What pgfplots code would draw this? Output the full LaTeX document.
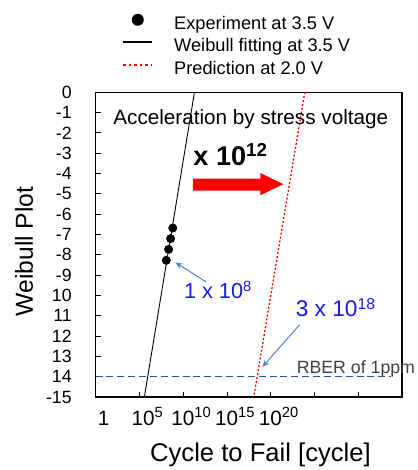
\documentclass[border=0pt]{standalone}
\usepackage{pgfplots}
\pgfplotsset{compat=1.18}
\usepackage{fontspec}
\setmainfont{Liberation Sans}
\usetikzlibrary{arrows.meta}

\definecolor{rberblue}{RGB}{40,80,170}
\definecolor{arrowblue}{RGB}{80,130,200}
\definecolor{textblue}{RGB}{25,25,235}

% superscript for the x tick labels
\newcommand\sx[1]{\raisebox{7.5bp}{\fontsize{15}{15}\selectfont #1}}

% legend samples
\pgfplotsset{
  legdot/.style={legend image code/.code={\draw[mark repeat=2,mark phase=2,##1]
    plot coordinates {(0bp,5bp) (14.5bp,5bp) (29bp,5bp)};}},
  legline/.style={legend image code/.code={\draw[##1] (0bp,5bp) -- (29bp,5bp);}},
}

\begin{document}
\begin{tikzpicture}
% fix the page to 422 x 470 (px of the reference), origin = axis lower left
\begin{scope}[shift={(-96.7bp,401.7bp)}, x=1bp, y=-1bp]
  \path[use as bounding box] (0,0) rectangle (422,470);
\end{scope}

\begin{axis}[
    at={(0,0)}, anchor=south west,
    scale only axis,
    width=310bp, height=308.4bp,
    xmode=log,
    xmin=1, xmax=1e35,
    ymin=-15, ymax=0,
    xtick={1,1e5,1e10,1e15,1e20,1e25,1e30},
    xticklabels={1,10\sx{5},10\sx{10},10\sx{15},10\sx{20},{},{}},
    minor xtick={},
    ytick={-15,-14,...,0},
    yticklabels={-15,14,13,12,11,10,-9,-8,-7,-6,-5,-4,-3,-2,-1,0},
    xtick pos=bottom, ytick pos=left,
    tick align=inside,
    major tick length=5bp,
    tick style={black, line width=0.9bp},
    axis line style={line width=1.3bp},
    xticklabel style={anchor=base, xshift=8bp, yshift=-28.3bp,
      font=\fontsize{21}{21}\selectfont},
    yticklabel style={xshift=-20.7bp, font=\fontsize{18}{18}\selectfont},
    xlabel={Cycle to Fail [cycle]},
    ylabel={Weibull Plot},
    xlabel style={at={(axis description cs:0.538,-0.2108)}, anchor=base,
      font=\fontsize{26}{26}\selectfont},
    ylabel style={at={(axis description cs:-0.2045,0.4776)}, anchor=base,
      font=\fontsize{25}{25}\selectfont},
    legend style={at={(axis description cs:0.0881,1.2565)}, anchor=north west,
      draw=none, fill=none, inner sep=0pt, outer sep=0pt,
      row sep=5.3bp, column sep=21.5bp,
      font=\fontsize{18.5}{18.5}\selectfont,
      nodes={inner sep=0pt, text height=13.5bp, text depth=4bp}},
    legend cell align=left,
]
\addlegendimage{only marks, mark=*, mark size=5.8bp, black, legdot}
\addlegendentry{Experiment at 3.5 V}
\addlegendimage{black, line width=1.7bp, legline}
\addlegendentry{Weibull fitting at 3.5 V}
\addlegendimage{red, line width=1.6bp, dash pattern=on 2.5bp off 3bp, legline}
\addlegendentry{Prediction at 2.0 V}

% RBER of 1ppm level
\addplot[rberblue, line width=1.3bp, dash pattern=on 7bp off 4bp, forget plot]
  coordinates {(1,-14) (4.8e33,-14)};
% Weibull fitting at 3.5 V
\addplot[black, line width=0.9bp, forget plot]
  coordinates {(1.95e11,0) (3.7e5,-15)};
% prediction at 2.0 V
\addplot[red, line width=1.3bp, dash pattern=on 2bp off 2bp, forget plot]
  coordinates {(7.8e23,0) (1.15e18,-15)};
% experiment at 3.5 V
\addplot[only marks, mark=*, mark size=4.3bp, black, forget plot]
  coordinates {(6.5e8,-6.68) (3.7e8,-7.2) (2.2e8,-7.73) (1.2e8,-8.27)};
\end{axis}

% annotations, in px of the reference
\begin{scope}[shift={(-96.7bp,401.7bp)}, x=1bp, y=-1bp]
  \node[anchor=base west, inner sep=0pt, font=\fontsize{21}{21}\selectfont]
    at (114.5,126) {Acceleration by stress voltage};
  \node[anchor=base west, inner sep=0pt, font=\bfseries\fontsize{27.5}{27.5}\selectfont]
    at (195.5,167.3) {x 10\raisebox{9.5bp}{\fontsize{19}{19}\selectfont 12}};
  \fill[red] (195,180.7) -- (263.3,180.7) -- (263.3,175) -- (286.7,186.3)
    -- (263.3,197.5) -- (263.3,192.7) -- (195,192.7) -- cycle;
  \node[anchor=base west, inner sep=0pt, textblue, font=\fontsize{22}{22}\selectfont]
    at (186,301.7) {1 x 10\raisebox{6.5bp}{\fontsize{15}{15}\selectfont 8}};
  \node[anchor=base west, inner sep=0pt, textblue, font=\fontsize{23}{23}\selectfont]
    at (299,320) {3 x 10\raisebox{7bp}{\fontsize{16}{16}\selectfont 18}};
  \draw[arrowblue, line width=1bp, -{Stealth[length=7bp,width=6bp]}]
    (208.3,285) -- (177.5,265.5);
  \draw[arrowblue, line width=1bp, -{Stealth[length=7bp,width=6bp]}]
    (303.3,328.3) -- (265.5,371);
  \node[anchor=base west, inner sep=0pt, black!75, font=\fontsize{18}{18}\selectfont]
    at (300,377.7) {RBER of 1ppm};
\end{scope}
\end{tikzpicture}
\end{document}
